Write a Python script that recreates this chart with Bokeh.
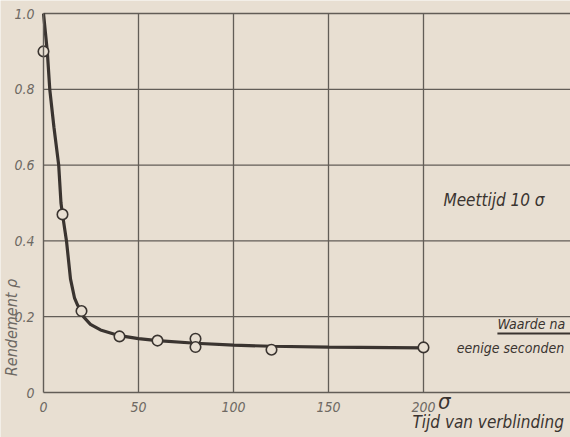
import math
from bokeh.plotting import figure
from bokeh.models import Range1d, FixedTicker, Label
from bokeh.embed import file_html
from bokeh.resources import INLINE

# ---- data ----
# measured points: time of glare (sigma) vs efficiency rho
t_meas = [0, 10, 20, 40, 60, 80, 80, 120, 200]
rho_meas = [0.90, 0.47, 0.215, 0.148, 0.137, 0.142, 0.120, 0.113, 0.119]

# drawn curve
curve_t = [0, 1.0, 2.0, 3.3, 5.5, 8.0, 9.2, 10.0, 12.1, 14.2, 16.3, 18.0, 20.0, 21.0,
           24.7, 30.0, 40.0, 50.0, 60.0, 80.0, 100.0, 120.0, 150.0, 200.0]
curve_rho = [1.0, 0.95, 0.90, 0.80, 0.70, 0.60, 0.50, 0.47, 0.40, 0.30, 0.25, 0.23,
             0.212, 0.20, 0.18, 0.165, 0.150, 0.142, 0.137, 0.130, 0.125, 0.122, 0.120, 0.118]

x_ticks = [0, 50, 100, 150, 200]
y_ticks = [0, 0.2, 0.4, 0.6, 0.8, 1.0]
y_tick_labels = ["0", "0.2", "0.4", "0.6", "0.8", "1.0"]

BG = "#e8dfd2"
INK = "#3a3430"
GRID = "#625d57"
LABEL = "#6e6963"
FONT = "'Liberation Sans Narrow', 'DejaVu Sans Condensed', 'Liberation Sans'"

X0, X1 = -22.63, 277.37
Y0, Y1 = -0.1187, 1.0343

p = figure(width=570, height=437,
           x_range=Range1d(X0, X1), y_range=Range1d(Y0, Y1),
           output_backend="svg", toolbar_location=None, min_border=0)
p.background_fill_color = BG
p.border_fill_color = BG
p.outline_line_color = None
p.xgrid.visible = False
p.ygrid.visible = False

xa, ya = p.xaxis[0], p.yaxis[0]
xa.fixed_location = 0
ya.fixed_location = 0
xa.bounds = (0, X1)
ya.bounds = (0, max(y_ticks))
for ax in (xa, ya):
    ax.axis_line_color = GRID
    ax.axis_line_width = 1.4
    ax.major_tick_line_color = None
    ax.minor_tick_line_color = None
    ax.major_label_text_font = FONT
    ax.major_label_text_font_style = "italic"
    ax.major_label_text_font_size = "14px"
    ax.major_label_text_color = LABEL
xa.major_label_standoff = 3
ya.major_label_standoff = 3
xa.ticker = FixedTicker(ticks=x_ticks)
ya.ticker = FixedTicker(ticks=y_ticks)
ya.major_label_overrides = {v: s for v, s in zip(y_ticks, y_tick_labels)}

# grid lines built from the tick values
gy = [v for v in y_ticks if v > 0]
gx = [v for v in x_ticks if v > 0]
p.segment(x0=[0] * len(gy), y0=gy, x1=[X1] * len(gy), y1=gy, line_color=GRID, line_width=1.3)
p.segment(x0=gx, y0=[0] * len(gx), x1=gx, y1=[max(y_ticks)] * len(gx), line_color=GRID, line_width=1.3)

# curve and measured points
p.line(curve_t, curve_rho, line_color=INK, line_width=3.2)
p.scatter(t_meas, rho_meas, size=10.5, fill_color=BG, line_color=INK, line_width=1.6)

def lab(x, y, text, size="15px", align="left", baseline="middle", angle=0.0, color=INK):
    p.add_layout(Label(x=x, y=y, text=text, text_font=FONT, text_font_style="italic",
                       text_font_size=size, text_color=color, text_align=align,
                       text_baseline=baseline, angle=angle))

# axis titles and annotations
lab(-16.6, 0.1715, "Rendement ρ", size="16px", align="center", angle=math.pi / 2, color=LABEL)
lab(207.6, -0.025, "σ", size="22px")
lab(194.2, -0.077, "Tijd van verblinding", size="17px")
lab(210.5, 0.507, "Meettijd 10 σ", size="17px")
lab(238.9, 0.180, "Waarde na", size="14px")
lab(217.5, 0.118, "eenige seconden", size="14px")
p.line([238.9, X1], [0.156, 0.156], line_color=INK, line_width=2)

open("out.html", "w").write(file_html(p, INLINE))
